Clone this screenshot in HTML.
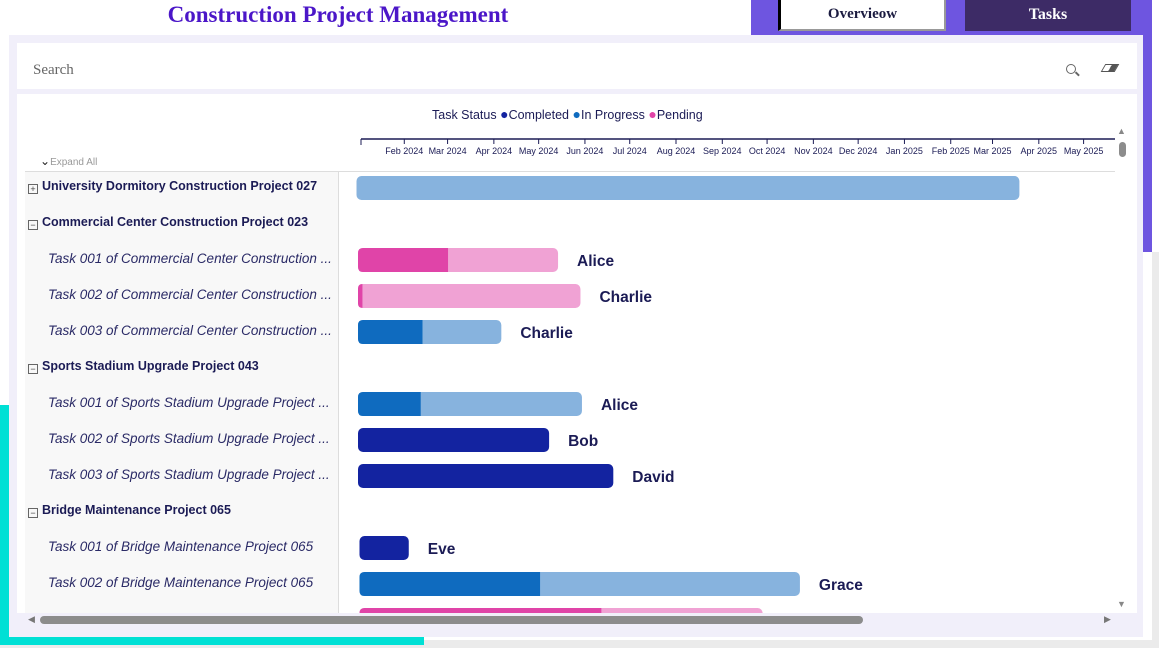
<!DOCTYPE html>
<html><head><meta charset="utf-8"><style>
body{margin:0;width:1159px;height:648px;position:relative;overflow:hidden;background:#fff;font-family:"Liberation Sans",sans-serif}
div{position:absolute;box-sizing:border-box}
.proj{font-weight:bold;font-size:12.5px;color:#1b1b55;left:42px;white-space:nowrap}
.task{font-style:italic;font-size:13.5px;color:#2a2a66;left:48px;white-space:nowrap}
.box{left:28px;width:10px;height:10px;border:1px solid #666;font-size:9px;line-height:8px;text-align:center;color:#444}
</style></head><body>
<div style="left:0;top:640px;width:1159px;height:8px;background:#ebebeb"></div>
<div style="left:0;top:405px;width:9px;height:240px;background:#00e0d5"></div>
<div style="left:0;top:637px;width:424px;height:8px;background:#00e0d5"></div>
<div style="left:751px;top:0;width:401px;height:35px;background:#6e55e0"></div>
<div style="left:1143px;top:0;width:9px;height:252px;background:#6e55e0"></div>
<div style="left:1152px;top:252px;width:7px;height:396px;background:#ebebeb"></div>
<div style="left:100px;top:2px;width:476px;text-align:center;font-family:'Liberation Serif',serif;font-weight:bold;font-size:23px;color:#4b16c8">Construction Project Management</div>
<div style="left:778px;top:0;width:168px;height:31px;background:#fff;border-left:3px solid #000;border-right:2px solid #999;border-bottom:2px solid #999;text-align:center;font-family:'Liberation Serif',serif;font-weight:bold;font-size:15px;line-height:29px;color:#1b1b40">Overvieow</div>
<div style="left:965px;top:0;width:166px;height:31px;background:#3d2b66;text-align:center;font-family:'Liberation Serif',serif;font-weight:bold;font-size:16px;line-height:30px;color:#fff">Tasks</div>
<div style="left:9px;top:35px;width:1134px;height:602px;background:#f1effa"></div>
<div style="left:17px;top:43px;width:1120px;height:46px;background:#fff;font-family:'Liberation Serif',serif;font-size:15px;color:#666;padding:19px 0 0 16px">Search</div>
<div style="left:1066px;top:64px;width:10px;height:10px;border:1.5px solid #666;border-radius:50%"></div>
<div style="left:1075px;top:73px;width:5px;height:1.5px;background:#666;transform:rotate(45deg)"></div>
<div style="left:1103px;top:64px;width:14px;height:8px;border:1.5px solid #555;background:linear-gradient(90deg,#fff 50%,#555 50%);transform:skewX(-30deg)"></div>
<div style="left:17px;top:94px;width:1120px;height:519px;background:#fff"></div>
<div style="left:432px;top:106px;font-size:12.5px;color:#1b1b55;white-space:nowrap">Task Status <span style="color:#1323a0;font-size:14px">●</span>Completed <span style="color:#0f6bbf;font-size:14px">●</span>In Progress <span style="color:#e044a8;font-size:14px">●</span>Pending</div>
<div style="left:40px;top:154px;font-size:10px;color:#999;white-space:nowrap"><span style="color:#222;font-size:12px">⌄</span>Expand All</div>
<div style="left:25px;top:171px;width:314px;height:442px;background:#f8f8f8;border-right:1px solid #ddd"></div>
<div style="left:25px;top:171px;width:1090px;height:1px;background:#ddd"></div>
<svg id="g" width="1159" height="648" style="position:absolute;left:0;top:0"></svg>
<div style="left:40px;top:616px;width:823px;height:8px;background:#8c8c8c;border-radius:4px"></div>
<div style="left:28px;top:614px;font-size:9px;color:#777">◀</div>
<div style="left:1104px;top:614px;font-size:9px;color:#777">▶</div>
<div style="left:1119px;top:142px;width:7px;height:15px;background:#8c8c8c;border-radius:4px"></div>
<div style="left:1117px;top:126px;font-size:9px;color:#888">▲</div>
<div style="left:1117px;top:599px;font-size:9px;color:#888">▼</div>
<div id="rows"></div>
<script>
const rowLabels=["University Dormitory Construction Project 027","Commercial Center Construction Project 023","Task 001 of Commercial Center Construction ...","Task 002 of Commercial Center Construction ...","Task 003 of Commercial Center Construction ...","Sports Stadium Upgrade Project 043","Task 001 of Sports Stadium Upgrade Project ...","Task 002 of Sports Stadium Upgrade Project ...","Task 003 of Sports Stadium Upgrade Project ...","Bridge Maintenance Project 065","Task 001 of Bridge Maintenance Project 065","Task 002 of Bridge Maintenance Project 065","Task 003 of Bridge Maintenance Project 065"];
const rowIsProject=[1,1,0,0,0,1,0,0,0,1,0,0,0];
const startDay=[-1,null,0,0,0,null,0,0,0,null,1,1,1];
const endDay=[443,null,134,149,96,null,150,128,171,null,34,296,271];
const progress=[0,null,0.45,0.02,0.45,null,0.28,1,1,null,1,0.41,0.6];
const status=["In Progress",null,"Pending","Pending","In Progress",null,"In Progress","Completed","Completed",null,"Completed","In Progress","Pending"];
const owners=["",null,"Alice","Charlie","Charlie",null,"Alice","Bob","David",null,"Eve","Grace",""];
const monthLabels=["Feb 2024","Mar 2024","Apr 2024","May 2024","Jun 2024","Jul 2024","Aug 2024","Sep 2024","Oct 2024","Nov 2024","Dec 2024","Jan 2025","Feb 2025","Mar 2025","Apr 2025","May 2025","Jun 2025"];
const monthDays=[31,60,91,121,152,182,213,244,274,305,335,366,397,425,456,486,517];
const NS="http://www.w3.org/2000/svg";
const svg=document.getElementById('g');
const x=d=>358+d*1.493;
const y=i=>188+i*36;
const colors={"Completed":["#1323a0","#1323a0"],"In Progress":["#0f6bbf","#87b3de"],"Pending":["#e044a8","#f0a2d4"]};
function mk(t,a){const e=document.createElementNS(NS,t);for(const k in a)e.setAttribute(k,a[k]);svg.appendChild(e);return e;}
const defs=mk('defs',{});const cp=document.createElementNS(NS,'clipPath');cp.setAttribute('id','c');defs.appendChild(cp);
const cr=document.createElementNS(NS,'rect');cr.setAttribute('x',340);cr.setAttribute('y',172);cr.setAttribute('width',775);cr.setAttribute('height',441);cp.appendChild(cr);
const ax=mk('line',{x1:361,y1:139,x2:1115,y2:139,stroke:'#1b1b55','stroke-width':1.5});

const t0=mk('line',{x1:361,y1:139,x2:361,y2:145,stroke:'#1b1b55'});
monthLabels.forEach((m,i)=>{const xx=x(monthDays[i]);if(xx>1115)return;
 const tk=mk('line',{x1:xx,y1:139,x2:xx,y2:144,stroke:'#1b1b55'});
 
 const tx=mk('text',{x:xx,y:154,'text-anchor':'middle','font-size':9,fill:'#1b1b55','font-family':'Liberation Sans, sans-serif'});
 
 tx.textContent=m;});
const g=mk('g',{'clip-path':'url(#c)'});
const rows=document.getElementById('rows');
rowLabels.forEach((lab,i)=>{
 if(y(i)<612){
 const d=document.createElement('div');
 
 
 d.className=rowIsProject[i]?'proj':'task';d.style.top=(y(i)-9)+'px';d.textContent=lab;rows.appendChild(d);
 if(rowIsProject[i]){const b=document.createElement('div');
  
  
  b.className='box';b.style.top=(y(i)-4)+'px';b.textContent=i==0?'+':'−';rows.appendChild(b);}
 }
 if(startDay[i]==null)return;
 const x0=x(startDay[i]),x1=x(endDay[i]),xm=x0+(x1-x0)*progress[i];const c=colors[status[i]];
 const r=document.createElementNS(NS,'rect');
 r.setAttribute('x',x0);r.setAttribute('y',y(i)-12);r.setAttribute('width',x1-x0);r.setAttribute('height',24);r.setAttribute('rx',5);r.setAttribute('fill',progress[i]>=1?c[0]:c[1]);
 
 
 g.appendChild(r);
 if(progress[i]>0&&progress[i]<1){const p=document.createElementNS(NS,'path');
  const w=xm-x0;const rr=Math.min(5,w);
  p.setAttribute('d',`M${x0+rr},${y(i)-12}H${xm}V${y(i)+12}H${x0+rr}Q${x0},${y(i)+12} ${x0},${y(i)+12-rr}V${y(i)-12+rr}Q${x0},${y(i)-12} ${x0+rr},${y(i)-12}Z`);
  p.setAttribute('fill',c[0]);
  
  
  g.appendChild(p);}
 if(owners[i]){const t=document.createElementNS(NS,'text');
  t.setAttribute('x',x1+19);t.setAttribute('y',y(i)+6);t.setAttribute('font-size',15.5);t.setAttribute('font-weight','bold');t.setAttribute('fill','#1b1b55');t.setAttribute('font-family','Liberation Sans, sans-serif');
  
  
  t.textContent=owners[i];g.appendChild(t);}
});
</script>
</body></html>
